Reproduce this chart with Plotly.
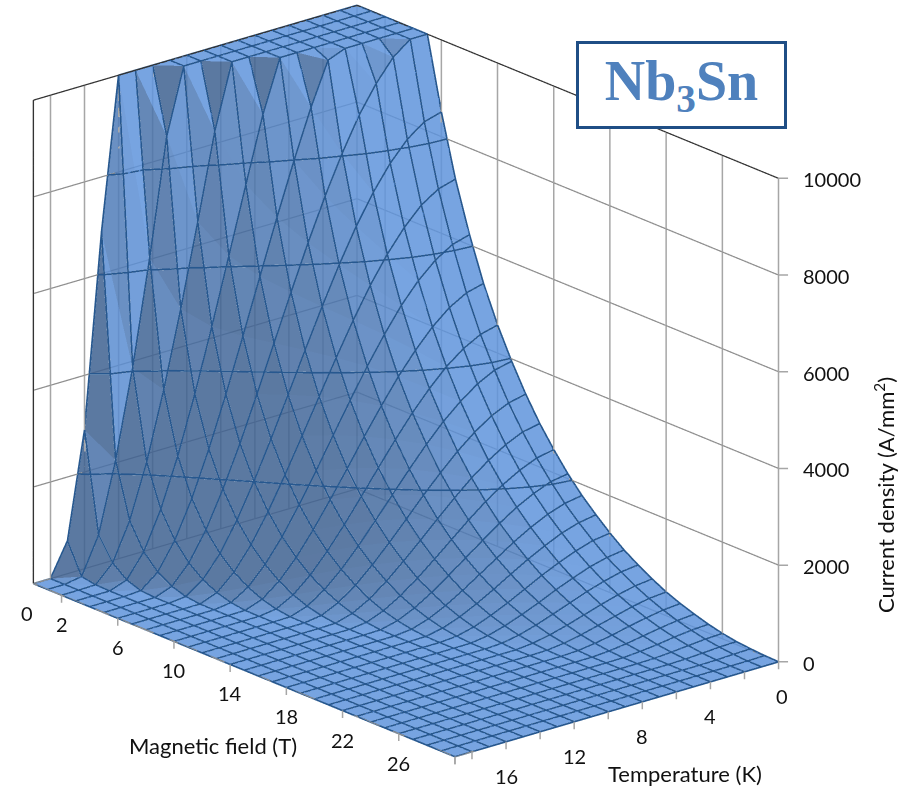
import plotly.graph_objects as go

magnetic_field = list(range(0, 31))
temperature = list(range(0, 20))
M = 10000
# Current density (A/mm2), one row per temperature.
# Trailing zeros are left out of each row.
rows = [
    [M, M, M, M, M, M, 8510, 7240, 6210, 5320, 4580, 3950, 3390, 2900, 2480, 2100, 1770, 1490, 1230, 1000, 810, 640, 490, 370, 270, 180, 110, 60, 30, 10],
    [M, M, M, M, M, M, 8410, 7140, 6110, 5230, 4490, 3870, 3310, 2830, 2410, 2040, 1710, 1430, 1180, 950, 770, 600, 460, 340, 240, 160, 95, 50, 20],
    [M, M, M, M, M, 9730, 8150, 6910, 5890, 5030, 4300, 3690, 3150, 2670, 2260, 1900, 1590, 1320, 1070, 860, 680, 520, 390, 280, 190, 120, 65, 27, 6],
    [M, M, M, M, M, 9290, 7760, 6550, 5570, 4730, 4030, 3430, 2910, 2450, 2060, 1720, 1420, 1160, 930, 730, 570, 420, 300, 210, 130, 70, 32, 8],
    [M, M, M, M, M, 8740, 7260, 6100, 5160, 4350, 3680, 3120, 2620, 2190, 1820, 1490, 1220, 980, 770, 590, 440, 310, 210, 130, 70, 31, 7],
    [M, M, M, M, 9860, 8050, 6660, 5560, 4660, 3910, 3280, 2750, 2280, 1880, 1540, 1240, 990, 780, 590, 430, 310, 200, 120, 65, 25, 5],
    [M, M, M, M, 8990, 7270, 5970, 4940, 4110, 3410, 2830, 2340, 1920, 1550, 1240, 980, 760, 570, 410, 285, 185, 105, 50, 17],
    [M, M, M, M, 7990, 6410, 5210, 4270, 3510, 2880, 2350, 1910, 1530, 1210, 940, 720, 530, 375, 250, 155, 82, 34, 7],
    [M, M, M, 8930, 6920, 5490, 4410, 3570, 2890, 2320, 1860, 1480, 1150, 880, 650, 470, 320, 205, 115, 54, 17],
    [M, M, M, 7580, 5800, 4540, 3590, 2860, 2260, 1780, 1380, 1060, 790, 570, 390, 255, 150, 75, 27, 3],
    [M, M, 8670, 6210, 4670, 3590, 2780, 2160, 1660, 1260, 935, 680, 470, 305, 180, 95, 37, 6],
    [M, M, 6900, 4850, 3570, 2670, 2010, 1500, 1100, 790, 545, 360, 215, 110, 44, 8],
    [M, 8650, 5200, 3560, 2540, 1830, 1310, 920, 630, 405, 240, 125, 50, 9],
    [M, 6240, 3630, 2380, 1620, 1090, 720, 455, 265, 132, 50, 8],
    [M, 4070, 2240, 1380, 860, 510, 285, 135, 46, 5],
    [6860, 2260, 1130, 605, 305, 130, 37],
    [2870, 820, 360, 126, 25],
    [680, 60, 10],
    [],
    [],
]
current_density = [r + [0] * (len(magnetic_field) - len(r)) for r in rows]

field_labels = [0, 2, 6, 10, 14, 18, 22, 26]
field_ticks = [2, 6, 10, 14, 18, 22, 26, 30]
temp_labels = [0, 4, 8, 12, 16]
temp_ticks = [0, 2, 4, 6, 8, 10, 12, 14, 16, 18, 19]
density_ticks = [0, 2000, 4000, 6000, 8000, 10000]
contour_levels = [2000, 4000, 6000, 8000]

FONT = "Lato"
INK = "#111111"
LINE = "#27588f"
BOX = "#1f4e85"
BLUE = "#5f94dc"
GRID = "#a6a6a6"
SLANT = "#8f8f8f"
Bmax, Tmax, Zmax = magnetic_field[-1], temperature[-1], density_ticks[-1]
nB, nT = len(magnetic_field), len(temperature)

xs = [b for t in temperature for b in magnetic_field]
ys = [t for t in temperature for b in magnetic_field]
zs = [v for row in current_density for v in row]
I, J, K = [], [], []
for jt in range(nT - 1):
    for ib in range(nB - 1):
        p = jt * nB + ib
        I += [p, p + 1]
        J += [p + 1, p + nB + 1]
        K += [p + nB, p + nB]

def polyline(segments):
    X, Y, Z = [], [], []
    for seg in segments:
        for (a, b, c) in seg:
            X.append(a); Y.append(b); Z.append(c)
        X.append(None); Y.append(None); Z.append(None)
    return X, Y, Z

def lines(segments, color, width):
    X, Y, Z = polyline(segments)
    return go.Scatter3d(x=X, y=Y, z=Z, mode="lines", line=dict(color=color, width=width),
                        hoverinfo="skip", showlegend=False)

fig = go.Figure()
# walls
fig.add_trace(lines(
    [[(b, 0, 0), (b, 0, Zmax)] for b in field_ticks + [0]] +
    [[(0, t, 0), (0, t, Zmax)] for t in temp_ticks if t > 0],
    GRID, 3))
fig.add_trace(lines(
    [[(0, Tmax, z), (0, 0, z), (Bmax, 0, z)] for z in density_ticks[:-1]] +
    [[(0, Tmax, 0), (Bmax, Tmax, 0), (Bmax, 0, 0)]],
    SLANT, 2.5))
fig.add_trace(lines([[(0, Tmax, 0), (0, Tmax, Zmax), (0, 0, Zmax), (Bmax, 0, Zmax)]], "#333333", 2.5))

fig.add_trace(go.Mesh3d(
    x=xs, y=ys, z=zs, i=I, j=J, k=K, color=BLUE, opacity=0.85, flatshading=True,
    hoverinfo="skip",
    lighting=dict(ambient=0.66, diffuse=1.0, specular=0.0, roughness=1.0, fresnel=0.0),
    lightposition=dict(x=10000, y=0, z=4000),
))
# mesh lines along each row and column of the table
fig.add_trace(lines(
    [[(b, temperature[j], current_density[j][i]) for i, b in enumerate(magnetic_field)] for j in range(nT)] +
    [[(b, t, current_density[j][i]) for j, t in enumerate(temperature)] for i, b in enumerate(magnetic_field)],
    LINE, 3.5))
# level lines: where the table crosses each z tick
level_segments = []
for L in contour_levels:
    pts = []
    for j, t in enumerate(temperature):
        for i in range(nB - 1):
            a, b = current_density[j][i], current_density[j][i + 1]
            if a >= L > b:
                pts.append((magnetic_field[i] + (a - L) / (a - b), t, L))
    for i, bb in enumerate(magnetic_field):
        for j in range(nT - 1):
            a, b = current_density[j][i], current_density[j + 1][i]
            if a >= L > b:
                pts.append((bb, temperature[j] + (a - L) / (a - b), L))
    pts.sort(key=lambda p: p[1] - p[0])
    level_segments.append(pts)
fig.add_trace(lines(level_segments, LINE, 3.5))

annots = []
tickfont = dict(family=FONT, size=20, color=INK)
for b in field_labels:
    annots.append(dict(x=b, y=Tmax, z=0, text=str(b), showarrow=False,
                       xshift=-6 if b == 0 else 0, yshift=-29, font=tickfont))
for t in temp_labels:
    annots.append(dict(x=Bmax, y=t, z=0, text=str(t), showarrow=False,
                       xshift=3 if t == 0 else 0, yshift=-34, font=tickfont))
for z in density_ticks:
    annots.append(dict(x=Bmax, y=0, z=z, text=str(z), showarrow=False, xanchor="left",
                       xshift=22, yshift=-1, font=tickfont))
tick = dict(text="", showarrow=True, arrowhead=0, arrowwidth=1.5, arrowcolor=GRID, standoff=0)
for b in field_ticks:
    annots.append(dict(x=b, y=Tmax, z=0, ax=0, ay=9, **tick))
for t in temp_ticks:
    annots.append(dict(x=Bmax, y=t, z=0, ax=0, ay=9, **tick))
for z in density_ticks:
    annots.append(dict(x=Bmax, y=0, z=z, ax=11, ay=0, **tick))

hidden = dict(visible=False, showspikes=False)
fig.update_layout(
    width=904, height=786, margin=dict(l=0, r=0, t=0, b=0, autoexpand=False),
    paper_bgcolor="white", showlegend=False,
    scene=dict(
        domain=dict(x=[0, 812 / 904], y=[24 / 786, 1]),
        aspectmode="manual", aspectratio=dict(x=1.714, y=1.112, z=1.353),
        camera=dict(projection=dict(type="orthographic"), up=dict(x=0, y=0, z=1),
                    center=dict(x=0, y=0, z=0), eye=dict(x=1.433, y=-1.211, z=0.694)),
        xaxis=dict(range=[0, Bmax], **hidden),
        yaxis=dict(range=[Tmax, 0], **hidden),
        zaxis=dict(range=[0, Zmax], **hidden),
        annotations=annots,
    ),
    annotations=[
        dict(xref="paper", yref="paper", x=213 / 904, y=1 - 745 / 786, text="Magnetic field (T)", showarrow=False,
             xanchor="center", yanchor="middle", font=dict(family=FONT, size=22, color=INK)),
        dict(xref="paper", yref="paper", x=685 / 904, y=1 - 773 / 786, text="Temperature (K)", showarrow=False,
             xanchor="center", yanchor="middle", font=dict(family=FONT, size=22, color=INK)),
        dict(xref="paper", yref="paper", x=884 / 904, y=1 - 495 / 786, text="Current density (A/mm<sup>2</sup>)",
             xanchor="center", yanchor="middle", textangle=-90, showarrow=False, font=dict(family=FONT, size=22, color=INK)),
        dict(xref="paper", yref="paper", x=681.5 / 904, y=1 - 84.5 / 786, text="<b>Nb<sub>3</sub>Sn</b>", showarrow=False,
             xanchor="center", yanchor="middle",
             width=205, height=82, bgcolor="white", bordercolor=BOX, borderwidth=3, borderpad=0,
             font=dict(family="Liberation Serif", size=56, color="#4f81bd")),
    ],
)
fig.write_html("out.html", config=dict(displayModeBar=False), post_script="document.body.style.margin='0';")
